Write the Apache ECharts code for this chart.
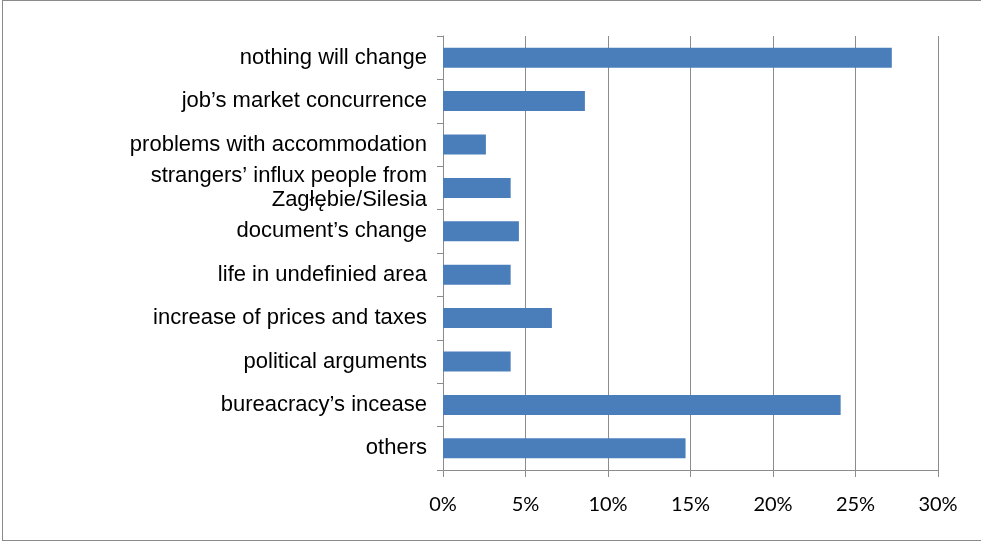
<!DOCTYPE html>
<html>
<head>
<meta charset="utf-8">
<script src="https://cdn.jsdelivr.net/npm/echarts@6/dist/echarts.min.js"></script>
<style>
  html, body { margin: 0; padding: 0; background: #fff; }
  #frame {
    position: absolute; left: 2px; top: 0; width: 990px; height: 541px;
    border: 1px solid #8a8a8a; box-sizing: border-box;
  }
  #chart { position: absolute; left: 0; top: 0; width: 981px; height: 543px; }
</style>
</head>
<body>
<div id="frame"></div>
<div id="chart"></div>
<script>
// Reasons / expected consequences, listed top to bottom
const categories = [
  'nothing will change',
  'job\u2019s market concurrence',
  'problems with accommodation',
  'strangers\u2019 influx people from\nZagłębie/Silesia',
  'document\u2019s change',
  'life in undefinied area',
  'increase of prices and taxes',
  'political arguments',
  'bureacracy\u2019s incease',
  'others'
];
// Share of answers (fraction of respondents)
const shares = [0.272, 0.086, 0.026, 0.041, 0.046, 0.041, 0.066, 0.041, 0.241, 0.147];
// Value axis ticks
const tickMin = 0, tickMax = 0.30, tickStep = 0.05;

const axisGrey = '#8c8c8c';
const chart = echarts.init(document.getElementById('chart'), null, { renderer: 'canvas' });
chart.setOption({
  animation: false,
  grid: { left: 443, right: 43, top: 36, bottom: 73, containLabel: false },
  xAxis: {
    type: 'value',
    min: tickMin, max: tickMax, interval: tickStep,
    axisLine: { show: true, lineStyle: { color: axisGrey, width: 1 } },
    axisTick: { show: true, length: 7, lineStyle: { color: axisGrey } },
    splitLine: { show: true, lineStyle: { color: axisGrey, width: 1 } },
    axisLabel: {
      margin: 25,
      color: '#000',
      fontFamily: 'Lato',
      fontSize: 20,
      formatter: v => Math.round(v * 100) + '%'
    }
  },
  yAxis: {
    type: 'category',
    inverse: true,
    data: categories,
    axisLine: { show: true, lineStyle: { color: axisGrey, width: 1 } },
    axisTick: { show: true, length: 6, alignWithLabel: false, lineStyle: { color: axisGrey } },
    axisLabel: {
      margin: 16,
      color: '#000',
      fontFamily: 'Liberation Sans',
      fontSize: 22,
      lineHeight: 24,
      align: 'right'
    }
  },
  series: [{
    type: 'bar',
    data: shares,
    barCategoryGap: '54%',
    itemStyle: { color: '#4a7ebb' }
  }]
});
</script>
</body>
</html>
